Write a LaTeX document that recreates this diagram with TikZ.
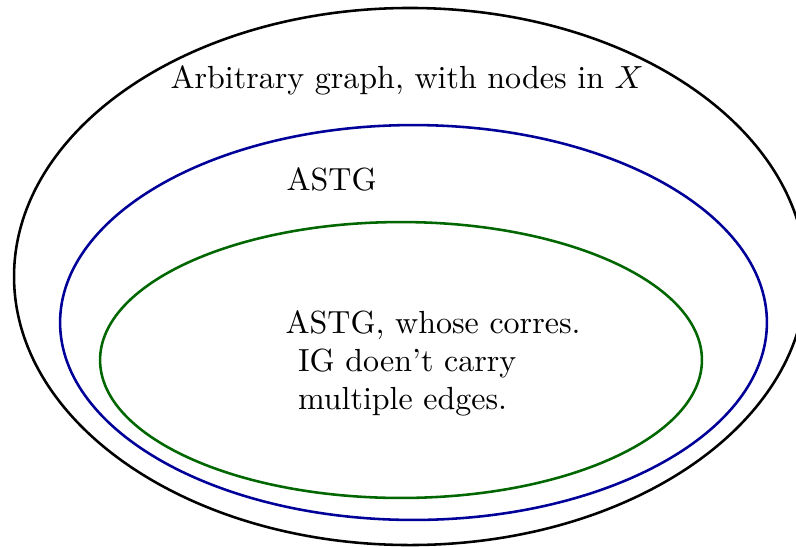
\documentclass[tikz,border=0pt]{standalone}
\usetikzlibrary{shapes.geometric, positioning}
\tikzset{
    setring/.style={ellipse, draw, thick, inner sep=0pt},
    setlabel/.style={inner sep=0pt, anchor=base west},
}

\begin{document}
\begin{tikzpicture}[x=0.010983cm, y=-0.010983cm]

            \useasboundingbox (0,0) rectangle (796,546);

            % Outer set (arbitrary graphs)
            \node[setring, minimum width=8.70cm, minimum height=5.90cm] (graphs) at (410,276.5) {};
            \node[setlabel] (graphsLabel) at (170,88.3) {Arbitrary graph, with nodes in $X$};

            % ASTG
            \node[setring, draw=blue!60!black, minimum width=7.765cm, minimum height=4.338cm] (astg) at (413.5,322.5) {};
            \node[setlabel] (astgLabel) at (286,190) {ASTG};

            % ASTG without multiple edges
            \node[setring, draw=green!40!black, minimum width=6.612cm, minimum height=3.031cm] (simple) at (401,360) {};
            \node[inner sep=0pt, anchor=north west, align=left] (simpleLabel) at (285,309.5)
                {ASTG, whose corres.\\\hspace*{3.9pt}IG doen't carry\\\hspace*{3.9pt}multiple edges.};

        \end{tikzpicture}
\end{document}
